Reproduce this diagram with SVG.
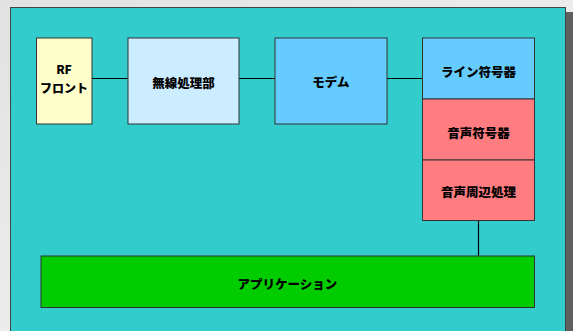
<svg xmlns="http://www.w3.org/2000/svg" width="573" height="331" viewBox="0 0 573 331">
<style>
.box{stroke:#333333;stroke-width:1}
.lbl{font-family:"Noto Sans CJK JP","Liberation Sans",sans-serif;font-weight:900;font-size:12.5px;fill:#000;text-anchor:middle;dominant-baseline:central}
.sm{font-size:12px}
.conn line{stroke:#000;stroke-width:1.2}
</style>
<defs>
<linearGradient id="bg" x1="0" y1="0" x2="1" y2="1">
<stop offset="0" stop-color="#e2e2e2"/>
<stop offset="0.5" stop-color="#ececec"/>
<stop offset="1" stop-color="#dedede"/>
</linearGradient>
</defs>
<rect x="0" y="0" width="573" height="331" fill="url(#bg)"/>
<rect x="565" y="12" width="8" height="319" fill="#5f5f5f"/>
<rect id="panel" x="10.5" y="7.5" width="555" height="330" fill="#33CCCC" stroke="#444444" stroke-width="1"/>
<g class="conn">
<line x1="92" y1="78.5" x2="128" y2="78.5"/>
<line x1="239" y1="78.5" x2="275" y2="78.5"/>
<line x1="387" y1="78.5" x2="422" y2="78.5"/>
<line x1="478.5" y1="221" x2="478.5" y2="256"/>
</g>
<g id="rf"><rect class="box" x="36.5" y="38" width="55.5" height="86" fill="#FFFFCC"/>
<text class="lbl sm" x="64" y="68">RF</text><text class="lbl sm" x="64" y="87.5">フロント</text></g>
<g id="musen"><rect class="box" x="128" y="38" width="111" height="86" fill="#CCECFF"/>
<text class="lbl" x="183.5" y="82">無線処理部</text></g>
<g id="modem"><rect class="box" x="275" y="38" width="112" height="86" fill="#66CCFF"/>
<text class="lbl" x="331" y="81">モデム</text></g>
<g id="line-enc"><rect class="box" x="422.5" y="38" width="112" height="61" fill="#66CCFF"/>
<text class="lbl" x="478.5" y="71">ライン符号器</text></g>
<g id="voice-enc"><rect class="box" x="422.5" y="99" width="112" height="61" fill="#FF7C80"/>
<text class="lbl" x="478.5" y="132">音声符号器</text></g>
<g id="voice-proc"><rect class="box" x="422.5" y="160" width="112" height="60.5" fill="#FF7C80"/>
<text class="lbl" x="478.5" y="191">音声周辺処理</text></g>
<g id="app"><rect class="box" x="41" y="256" width="493.5" height="51.5" fill="#00CC00"/>
<text class="lbl" x="287.5" y="283">アプリケーション</text></g>
</svg>
